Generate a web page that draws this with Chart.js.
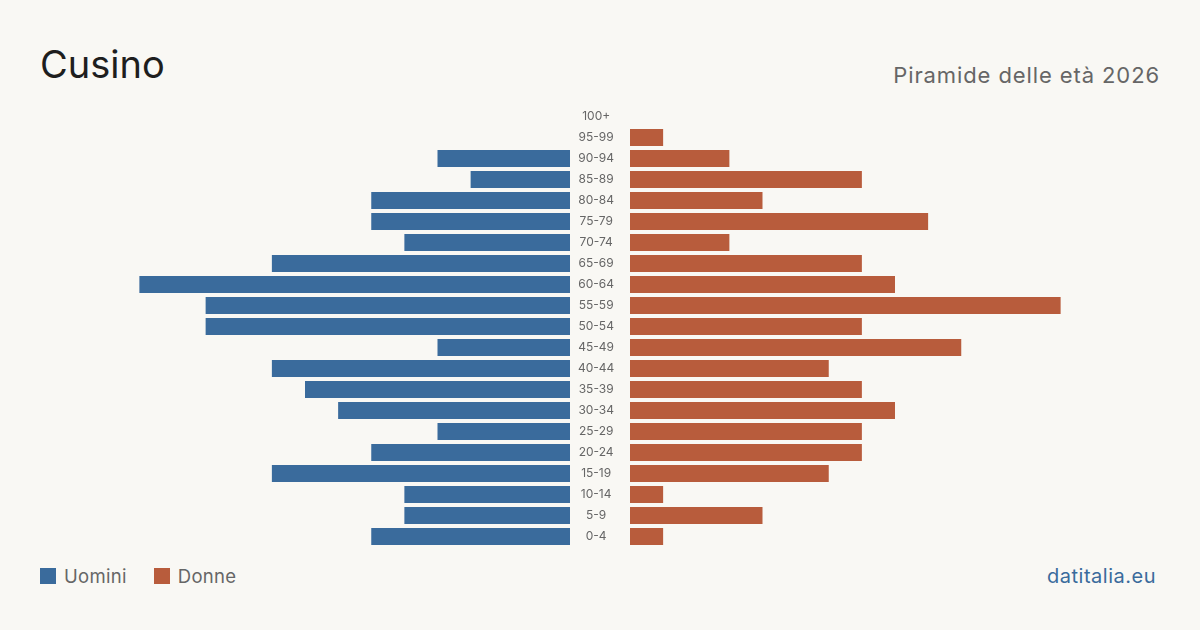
<!DOCTYPE html>
<html>
<head>
<meta charset="utf-8">
<script src="https://cdn.jsdelivr.net/npm/chart.js@4/dist/chart.umd.min.js"></script>
<style>
  body { margin: 0; background: #f9f8f4; font-family: Inter, "Noto Sans", sans-serif; }
  #page { position: relative; width: 1200px; height: 630px; overflow: hidden; }
  .title { position: absolute; left: 40px; top: 41px; font-size: 38px; color: #1e1e1e; }
  .subtitle { position: absolute; right: 40px; top: 62px; font-size: 22px; letter-spacing: 0.9px; color: #666; }
  .legend { position: absolute; left: 40px; top: 565px; font-size: 18.5px; color: #666; display: flex; align-items: center; }
  .legend span.sw { display: inline-block; width: 16px; height: 16px; margin-right: 8px; }
  .legend span.lab { margin-right: 27px; letter-spacing: 0.3px; }
  .source { position: absolute; right: 44px; top: 564px; font-size: 20px; letter-spacing: 0.5px; color: #3a6b9c; }
  #left { position: absolute; left: 40px; top: 106px; width: 590px; height: 441px; }
  #right { position: absolute; left: 630px; top: 106px; width: 530px; height: 441px; }
</style>
</head>
<body>
<div id="page">
  <div class="title">Cusino</div>
  <div class="subtitle">Piramide delle età 2026</div>
  <div id="left"><canvas id="cLeft"></canvas></div>
  <div id="right"><canvas id="cRight"></canvas></div>
  <div class="legend">
    <span class="sw" style="background:#3a6b9c"></span><span class="lab">Uomini</span>
    <span class="sw" style="background:#b85c3c"></span><span class="lab">Donne</span>
  </div>
  <div class="source">datitalia.eu</div>
</div>
<script>
// Fasce d'età (dall'alto verso il basso)
const fasce = ['100+', '95-99', '90-94', '85-89', '80-84', '75-79', '70-74', '65-69', '60-64', '55-59',
  '50-54', '45-49', '40-44', '35-39', '30-34', '25-29', '20-24', '15-19', '10-14', '5-9', '0-4'];
const uomini = [0, 0, 4, 3, 6, 6, 5, 9, 13, 11, 11, 4, 9, 8, 7, 4, 6, 9, 5, 5, 6];
const donne = [0, 1, 3, 7, 4, 9, 3, 7, 8, 13, 7, 10, 6, 7, 8, 7, 7, 6, 1, 4, 1];
const maxScala = 16;

const colUomini = '#3a6b9c';
const colDonne = '#b85c3c';

// Opzioni comuni per le due metà della piramide
const baseOptions = (reverse, showLabels) => ({
    indexAxis: 'y',
    responsive: true,
    maintainAspectRatio: false,
    animation: false,
    layout: { padding: 0, autoPadding: false },
    plugins: { legend: { display: false }, tooltip: { enabled: false } },
    scales: {
        x: { display: false, min: 0, max: maxScala, reverse: reverse },
        y: showLabels ? {
            position: 'right',
            grid: { display: false },
            border: { display: false },
            ticks: { crossAlign: 'center', padding: 0, color: '#666', font: { family: 'Inter', size: 12, lineHeight: 1 } },
            afterFit: (scale) => {
                // colonna etichette fissa, senza margini sopra/sotto
                scale.width = 60;
                scale.paddingTop = 0;
                scale.paddingBottom = 0;
            }
        } : { display: false }
    }
});

new Chart(document.getElementById('cLeft'), {
    type: 'bar',
    data: {
        labels: fasce,
        datasets: [{ label: 'Uomini', data: uomini, backgroundColor: colUomini, barThickness: 17, inflateAmount: 0 }]
    },
    options: baseOptions(true, true)
});

new Chart(document.getElementById('cRight'), {
    type: 'bar',
    data: {
        labels: fasce,
        datasets: [{ label: 'Donne', data: donne, backgroundColor: colDonne, barThickness: 17, inflateAmount: 0 }]
    },
    options: baseOptions(false, false)
});
</script>
</body>
</html>
